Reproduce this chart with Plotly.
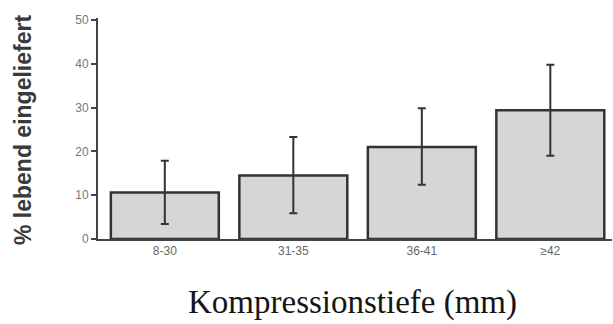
import plotly.graph_objects as go

categories = ["8-30", "31-35", "36-41", "≥42"]
values = [10.6, 14.5, 21.0, 29.4]
err_upper = [17.9, 23.3, 29.9, 39.8]
err_lower = [3.4, 5.9, 12.4, 19.0]
y_ticks = [0, 10, 20, 30, 40, 50]

plus = [u - v for u, v in zip(err_upper, values)]
minus = [v - l for v, l in zip(values, err_lower)]

W, H = 613, 324
L, R, T, B = 98, 1, 18, 85

fig = go.Figure()
fig.add_trace(go.Bar(
    x=categories, y=values, width=0.84,
    marker=dict(color="#d6d6d6", line=dict(color="#333333", width=2.5)),
    error_y=dict(type="data", symmetric=False, array=plus, arrayminus=minus,
                 color="#333333", thickness=2, width=4),
))

fig.update_layout(
    width=W, height=H,
    margin=dict(l=L, r=R, t=T, b=B),
    plot_bgcolor="white", paper_bgcolor="white",
    showlegend=False,
    xaxis=dict(range=[-0.52, 3.48], showline=True, linecolor="#444444", linewidth=2,
               ticks="", tickfont=dict(family="Liberation Sans, Arial", size=12, color="#666666"),
               showgrid=False, zeroline=False),
    yaxis=dict(range=[0, 50.5], tickvals=y_ticks, showline=True, linecolor="#444444", linewidth=2,
               ticks="outside", ticklen=5, tickcolor="#444444", tickwidth=2,
               tickfont=dict(family="Liberation Sans, Arial", size=12, color="#777777"),
               showgrid=False, zeroline=False),
)

pw, ph = W - L - R, H - T - B
def px(xp): return (xp - L) / pw
def py(yp): return (H - B - yp) / ph

fig.add_annotation(text="<b>% lebend eingeliefert</b>", x=px(23), y=py(130), xref="paper", yref="paper",
                   showarrow=False, textangle=-90, xanchor="center", yanchor="middle",
                   font=dict(family="Liberation Sans, Arial", size=23, color="#3a3a3a"))
fig.add_annotation(text="Kompressionstiefe (mm)", x=px(352), y=py(302), xref="paper", yref="paper",
                   showarrow=False, xanchor="center", yanchor="middle",
                   font=dict(family="Liberation Serif, Times New Roman", size=33, color="#151515"))

fig.write_html("out.html", config={"displayModeBar": False},
               post_script="document.body.style.margin='0';")
